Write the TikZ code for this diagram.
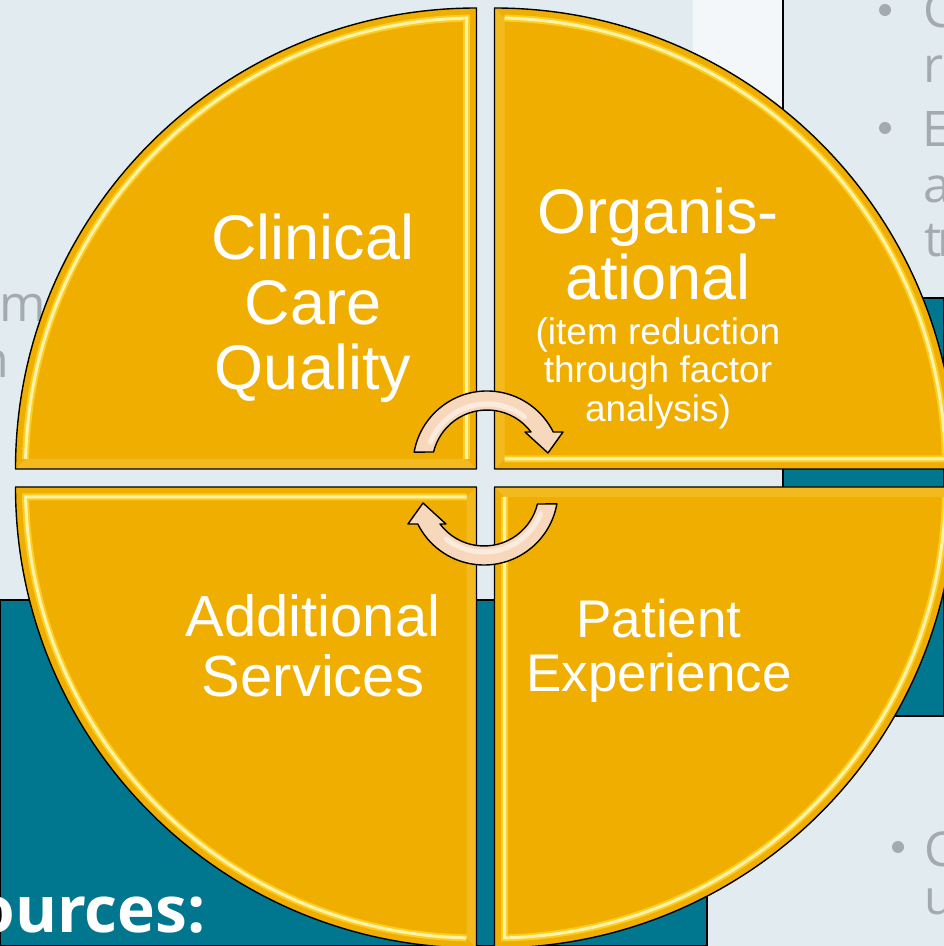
\documentclass[tikz,border=0pt]{standalone}
\usepackage{fontspec}
\setmainfont{Liberation Sans}
\newfontfamily\slidefont{Open Sans}
\usetikzlibrary{positioning}

\definecolor{paneL}{HTML}{E2ECF0}
\definecolor{stripW}{HTML}{F4F7F9}
\definecolor{tealD}{HTML}{00778F}
\definecolor{gold}{HTML}{F0AE00}
\definecolor{goldB}{HTML}{F7C43C}
\definecolor{glowY}{HTML}{FFD52E}
\definecolor{shineY}{HTML}{FFF3A8}
\definecolor{peach}{HTML}{F8D8BC}
\definecolor{greyT}{HTML}{A3ABB0}

\newcommand{\lblClin}{Clinical\\Care\\Quality}
\newcommand{\lblOrg}{Organis-\\ational}
\newcommand{\lblOrgNote}{(item reduction\\through factor\\analysis)}
\newcommand{\lblAdd}{Additional\\Services}
\newcommand{\lblPat}{Patient\\Experience}

\begin{document}
\begin{tikzpicture}[
  x=1pt, y=1pt,
  quad/.style   ={fill=gold},
  rimline/.style={draw=black, line width=1.4pt, line join=round},
  band/.style   ={fill=goldB, opacity=.55},
  glow/.style   ={draw=glowY, line width=7pt, opacity=.8},
  shine/.style  ={draw=shineY, line width=3pt},
  cyc/.style    ={fill=peach, draw=black, line width=1.4pt, line join=round},
  sheen/.style  ={draw=white, line width=5pt, opacity=.5, line cap=round},
  edge/.style   ={draw=black, line width=1.2pt},
  lbl/.style    ={text=white, align=center, inner sep=0pt},
  bul/.style    ={text=greyT, inner sep=0pt, anchor=base west,
                  font=\slidefont\fontsize{49}{55}\selectfont},
  dot/.style    ={circle, fill=greyT, inner sep=0pt, minimum size=12pt},
]

% ---- geometry --------------------------------------------------------------
\def\cx{485.5} \def\cy{468}   % centre of the disc
\def\R{461}                   % radius of each quarter
\def\gap{9}                   % half the gap between quarters

\useasboundingbox (0,0) rectangle (944,946);
\clip (0,0) rectangle (944,946);

% ---- slide behind the disc -------------------------------------------------
\fill[paneL] (0,0) rectangle (944,946);
\fill[stripW] (693,648) rectangle (783,946);
\draw[edge] (783,946) -- (783,648);
\path[fill=tealD, edge] (0,0) -- (0,346) -- (783,346) -- (783,648) -- (944,648)
  -- (944,230) -- (707,230) -- (707,0) -- cycle;

\node[dot] (d1) at (885,936) {};
\node[bul] (tC)  at (923,918) {C};
\node[bul] (tr)  at (923,863) {r};
\node[dot] (d2) at (885,818) {};
\node[bul] (tE)  at (922,799) {E};
\node[bul] (ta)  at (923,743) {a};
\node[bul] (ttr) at (924,689) {t\kern-4pt r};

\node[bul, font=\slidefont\fontsize{50}{56}\selectfont] (lm) at (-1,624) {m};
\node[bul, font=\slidefont\fontsize{50}{56}\selectfont] (ln) at (-22,568) {n};

\node[dot] (d3) at (898,99) {};
\node[bul, font=\slidefont\fontsize{48}{48}\selectfont] (bC) at (924,79) {C};
\node[bul, font=\slidefont\fontsize{48}{48}\selectfont] (bu) at (924,31) {u};

\node[text=white, inner sep=0pt, anchor=base east,
      font=\slidefont\bfseries\fontsize{64}{70}\selectfont] (src) at (206,13) {ources:};

% ---- the four quarters -----------------------------------------------------
\foreach \rot in {0,-90,-180,-270}{
  \begin{scope}[shift={(\cx,\cy)}, rotate=\rot]
    \path[quad] (-\gap,\gap) -- (-\gap-\R,\gap)
      arc[start angle=180, end angle=90, radius=\R] -- cycle;
    % bevel
    \fill[band] (-\gap,\gap) -- (-19,19) -- (-459.9,19) -- (-470,\gap) -- cycle;
    \draw[glow]  (-19,19) -- (-19,459.9)
      arc[start angle=91.27, end angle=178.73, radius=451];
    \draw[shine] (-19,19) -- (-19,459.9)
      arc[start angle=91.27, end angle=178.73, radius=451];
    \path[rimline] (-\gap,\gap) -- (-\gap-\R,\gap)
      arc[start angle=180, end angle=90, radius=\R] -- cycle;
  \end{scope}
}

% ---- the two turning arrows ------------------------------------------------
\foreach \rot in {0,180}{
  \begin{scope}[shift={(\cx,\cy)}, rotate=\rot, shift={(1.5,13)}]
    \path[cyc] (166.3:55) -- (170:74)
      arc[start angle=170, end angle=26.5, radius=74]
      -- (76,33) -- (61,12) -- (38,33) -- (36.9:55)
      arc[start angle=36.9, end angle=166.3, radius=55] -- cycle;
    \draw[sheen] (158:61) arc[start angle=158, end angle=52, radius=61];
  \end{scope}
}

% ---- labels ----------------------------------------------------------------
\node[lbl, font=\fontsize{63}{65}\selectfont] (clin) at (313,637.5) {\lblClin};
\node[lbl, font=\fontsize{63}{66}\selectfont] (org)  at (658,702)   {\lblOrg};
\node[lbl, font=\fontsize{37}{38.5}\selectfont, below=17pt of org] (orgnote)
  {\lblOrgNote};
\node[lbl, font=\fontsize{58}{60}\selectfont] (add)  at (313,300)   {\lblAdd};
\node[lbl, font=\fontsize{53}{54}\selectfont] (pat)  at (659,295.5) {\lblPat};

\end{tikzpicture}
\end{document}
